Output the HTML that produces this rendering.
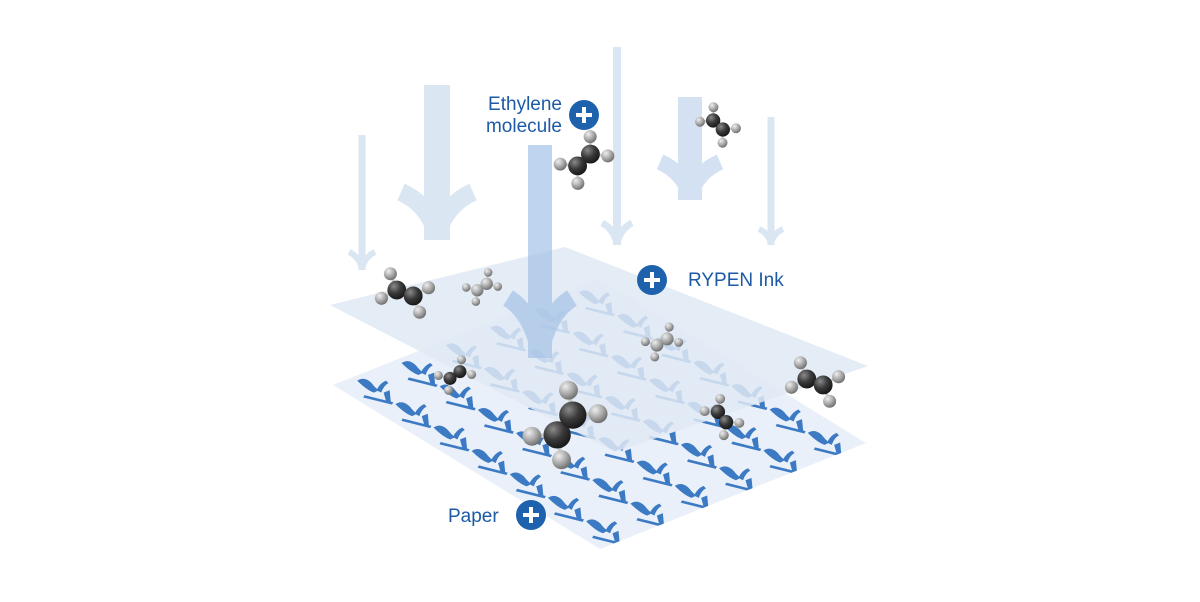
<!DOCTYPE html>
<html><head><meta charset="utf-8"><style>
html,body{margin:0;padding:0;background:#fff;}
svg{display:block}
text{font-family:"Liberation Sans",sans-serif;fill:#1c5aa6}
</style></head><body>
<svg id="s" width="1200" height="602" viewBox="0 0 1200 602" xmlns="http://www.w3.org/2000/svg">
<defs>
<radialGradient id="gd" cx="0.35" cy="0.3" r="0.75"><stop offset="0" stop-color="#8a8a8a"/><stop offset="0.5" stop-color="#3a3a3a"/><stop offset="1" stop-color="#151515"/></radialGradient>
<radialGradient id="gl" cx="0.35" cy="0.3" r="0.75"><stop offset="0" stop-color="#eeeeee"/><stop offset="0.55" stop-color="#a8a8a8"/><stop offset="1" stop-color="#6a6a6a"/></radialGradient>
<clipPath id="pc"><polygon points="333,385 599,279 866,443 600,549"/></clipPath>
</defs>
<g id="arrows"></g>
<polygon points="333,385 599,279 866,443 600,549" fill="#e9f0f9"/>
<g id="logos" clip-path="url(#pc)"></g>
<polygon points="330,305 565,247 868,366 615,452" fill="#dfe9f5" fill-opacity="0.85"/>
<g id="front"></g>
<g id="mols"></g>
<text x="562" y="110" font-size="19" text-anchor="end">Ethylene</text>
<text x="562" y="132" font-size="19" text-anchor="end">molecule</text>
<circle cx="584" cy="115" r="15" fill="#1e61ad"/>
<path d="M584,107v16M576,115h16" stroke="#fff" stroke-width="4"/>
<circle cx="652" cy="280" r="15" fill="#1e61ad"/>
<path d="M652,272v16M644,280h16" stroke="#fff" stroke-width="4"/>
<text x="688" y="286" font-size="19">RYPEN Ink</text>
<circle cx="531" cy="515" r="15" fill="#1e61ad"/>
<path d="M531,507v16M523,515h16" stroke="#fff" stroke-width="4"/>
<text x="448" y="522" font-size="19">Paper</text>
</svg>
<script>
var NS="http://www.w3.org/2000/svg";
function el(p,t,a){var e=document.createElementNS(NS,t);for(var k in a)e.setAttribute(k,a[k]);p.appendChild(e);return e;}
var A=document.getElementById('arrows'),F=document.getElementById('front');
function arr(g,cx,y0,yb,w,W,H,sw,col,op){
 var gg=el(g,'g',{opacity:op});
 el(gg,'rect',{x:cx-w,y:y0,width:2*w,height:yb-y0,fill:col});
 var d="M"+cx+","+(yb-sw*0.3)+"Q"+(cx-W*0.25)+","+(yb-H*0.75)+" "+(cx-W)+","+(yb-H)+"M"+cx+","+(yb-sw*0.3)+"Q"+(cx+W*0.25)+","+(yb-H*0.75)+" "+(cx+W)+","+(yb-H);
 el(gg,'path',{d:d,fill:'none',stroke:col,'stroke-width':sw});
}
arr(A,362,135,270,3.5,13,18,6,'#dbe6f3',1);
arr(A,617,47,245,4,15,22,7,'#dbe6f3',1);
arr(A,771,117,245,3.5,12,16,6,'#dbe6f3',1);
arr(A,437,85,240,13,36,48,18,'#dbe6f3',1);
arr(A,690,97,200,12,30,38,16,'#d3e1f2',1);
arr(F,540,145,358,12,32,60,18,'#a9c5e8',0.75);
// logos
var L=document.getElementById('logos');
var Lx=333,Ly=385,ux=267,uy=164,vx=266,vy=-106,nU=7,nV=6;
for(var i=0;i<nU;i++)for(var j=0;j<nV;j++){
 var s=(i+0.5)/nU,t=(j+0.5)/nV;
 var x=Lx+s*ux+t*vx,y=Ly+s*uy+t*vy;
 var g=el(L,'g',{transform:"translate("+(x-17)+","+(y-12)+") scale(1.2)",fill:"#3d7ac4"});
 el(g,'path',{d:"M0,4 Q6,0 12,6 Q15,10 18,12 L14,14 Q8,12 0,4Z"});
 el(g,'path',{d:"M16,12 Q19,6 24,4 L26,6 Q22,8 20,14Z"});
 el(g,'path',{d:"M6,16 L30,22 L29,24 L5,18Z"});
 el(g,'path',{d:"M22,14 L27,12 L28,22 L24,21Z"});
}
// molecules
var M=document.getElementById('mols');
function ball(x,y,r,dark){el(M,'circle',{cx:x,cy:y,r:r,fill:dark?'url(#gd)':'url(#gl)'});}
function mol(x,y,k,a,light){
 var c=Math.cos(a),s=Math.sin(a);
 function p(dx,dy){return [x+k*(dx*c-dy*s),y+k*(dx*s+dy*c)];}
 var c1=p(-6,0),c2=p(6,0),hs=[p(-14,-9),p(-14,9),p(14,-9),p(14,9)];
 hs.forEach(function(h,i){var cc=i<2?c1:c2;el(M,'line',{x1:cc[0],y1:cc[1],x2:h[0],y2:h[1],stroke:'#ccc','stroke-width':2*k});});
 el(M,'line',{x1:c1[0],y1:c1[1],x2:c2[0],y2:c2[1],stroke:'#555','stroke-width':3*k});
 hs.forEach(function(h){ball(h[0],h[1],4.5*k,false);});
 ball(c1[0],c1[1],6.5*k,!light);ball(c2[0],c2[1],6.5*k,!light);
}
mol(584,160,1.45,2.4);
mol(718,125,1.1,0.75);
mol(405,293,1.45,0.35);
mol(482,287,0.95,-0.6,true);
mol(662,342,1.0,-0.55,true);
mol(815,382,1.45,0.35);
mol(455,375,1.0,-0.6);
mol(722,417,1.1,0.9);
mol(565,425,2.1,-0.9);
</script>
</body></html>
